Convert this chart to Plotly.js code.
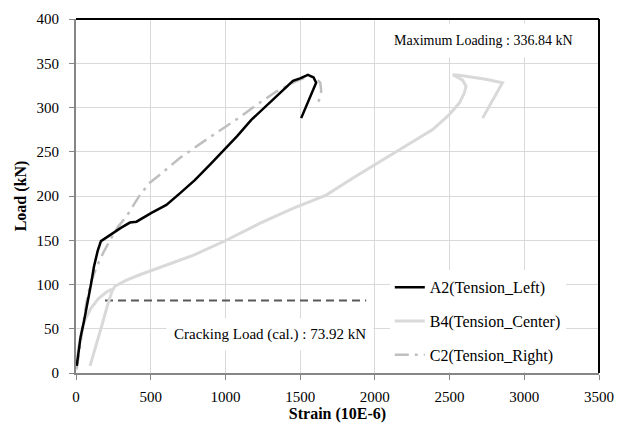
<!DOCTYPE html>
<html>
<head>
<meta charset="utf-8">
<script src="https://cdn.plot.ly/plotly-3.0.1.min.js"></script>
<style>html,body{margin:0;padding:0;background:#fff;}</style>
</head>
<body>
<div id="plotdiv"></div>
<script>
// A2 (Tension_Left)
var a2Strain = [5, 30, 55, 80, 100, 120, 145, 167, 227, 300, 361, 405, 505, 605, 695, 795, 900, 984, 1080, 1173, 1260, 1340, 1400, 1452, 1500, 1541, 1552, 1590, 1607, 1507];
var a2Load   = [8, 40, 60, 80, 100, 120, 138, 149, 156, 164, 170, 171, 181, 190, 203, 218, 236, 251, 268, 286, 300, 313, 322, 330, 333, 336, 337, 334, 328, 288];

// B4 (Tension_Center) - two branches separated by a gap
var b4Strain = [0, 15, 35, 60, 100, 150, 200, 240, null, 94, 130, 170, 210, 240, 260, 338, 427, 539, 672, 784, 1006, 1229, 1452, 1674, 1870, 2164, 2387, 2498, 2565, 2598, 2610, 2587, 2543, 2522, 2565, 2654, 2743, 2854, 2721];
var b4Load   = [3, 25, 45, 60, 73, 84, 91, 95, null, 8, 28, 52, 76, 92, 98, 105, 111, 118, 126, 133, 150, 169, 186, 201, 222, 252, 275, 292, 305, 316, 324, 331, 335, 337, 336.5, 334, 332, 328, 288];

// C2 (Tension_Right)
var c2Strain = [5, 25, 45, 70, 95, 120, 138, 180, 227, 280, 338, 427, 494, 561, 695, 840, 1029, 1095, 1200, 1340, 1452, 1520, 1563, 1600, 1635, 1641, 1630, 1608];
var c2Load   = [5, 30, 55, 80, 100, 113, 120, 135, 150, 165, 177, 201, 215, 224, 243, 260, 281, 289, 302, 318, 328, 333, 335, 334, 328, 318, 310, 300];

// Cracking load reference line
var crackStrain = [194, 1942];
var crackLoad = [82, 82];

var seriesNames = ['A2(Tension_Left)', 'B4(Tension_Center)', 'C2(Tension_Right)'];
var xTicks = [0, 500, 1000, 1500, 2000, 2500, 3000, 3500];
var yTicks = [0, 50, 100, 150, 200, 250, 300, 350, 400];
var maxText = 'Maximum Loading : 336.84 kN';
var crackText = 'Cracking Load (cal.) : 73.92 kN';

var traces = [
  {x: crackStrain, y: crackLoad, mode: 'lines', showlegend: false, hoverinfo: 'skip',
   line: {color: '#595959', width: 2, dash: '8px,5px'}},
  {x: b4Strain, y: b4Load, mode: 'lines', name: seriesNames[1], legendgroup: 'b', legendrank: 2,
   connectgaps: false, line: {color: '#d9d9d9', width: 3}},
  {x: c2Strain, y: c2Load, mode: 'lines', name: seriesNames[2], legendgroup: 'c', legendrank: 3,
   line: {color: '#bfbfbf', width: 2.5, dash: '14px,6px,3px,6px'}},
  {x: a2Strain, y: a2Load, mode: 'lines', name: seriesNames[0], legendgroup: 'a', legendrank: 1,
   line: {color: '#000000', width: 2.5}}
];

var layout = {
  width: 624, height: 435,
  margin: {l: 76, r: 25, t: 19, b: 62},
  paper_bgcolor: '#ffffff', plot_bgcolor: '#ffffff',
  font: {family: 'Liberation Serif', size: 15, color: '#000'},
  showlegend: true,
  legend: {
    x: 0.6, y: 0.29, xanchor: 'left', yanchor: 'top',
    bgcolor: '#ffffff', borderwidth: 0,
    font: {family: 'Liberation Serif', size: 16, color: '#000'},
    traceorder: 'grouped', tracegroupgap: 10
  },
  xaxis: {
    range: [0, 3500], tickvals: xTicks, ticktext: xTicks.map(String),
    showgrid: true, gridcolor: '#d9d9d9', gridwidth: 1,
    zeroline: false, showline: true, linecolor: '#868686', linewidth: 2,
    ticks: 'outside', ticklen: 5, tickcolor: '#868686', tickwidth: 1,
    ticklabelstandoff: 4,
    tickfont: {family: 'Liberation Serif', size: 15, color: '#000'},
    title: {text: '<b>Strain (10E-6)</b>', font: {family: 'Liberation Serif', size: 16, color: '#000'}, standoff: 4}
  },
  yaxis: {
    range: [0, 400], tickvals: yTicks, ticktext: yTicks.map(String),
    showgrid: true, gridcolor: '#d9d9d9', gridwidth: 1,
    zeroline: false, showline: true, linecolor: '#868686', linewidth: 2,
    ticks: 'outside', ticklen: 5, tickcolor: '#868686', tickwidth: 1,
    ticklabelstandoff: 7,
    tickfont: {family: 'Liberation Serif', size: 15, color: '#000'},
    title: {text: '<b>Load (kN)</b>', font: {family: 'Liberation Serif', size: 16, color: '#000'}, standoff: 6}
  },
  shapes: [
    {type: 'line', xref: 'paper', yref: 'paper', x0: 0, x1: 1, y0: 1, y1: 1, line: {color: '#000', width: 2}},
    {type: 'line', xref: 'paper', yref: 'paper', x0: 1, x1: 1, y0: 0, y1: 1, line: {color: '#000', width: 2}}
  ],
  annotations: [
    {xref: 'paper', yref: 'paper', x: 0.78, y: 0.94, xanchor: 'center', yanchor: 'middle',
     text: maxText, showarrow: false, bgcolor: '#ffffff', borderpad: 9,
     font: {family: 'Liberation Serif', size: 14, color: '#000'}},
    {xref: 'paper', yref: 'paper', x: 0.37, y: 0.108, xanchor: 'center', yanchor: 'middle',
     text: crackText, showarrow: false, bgcolor: '#ffffff', borderpad: 7,
     font: {family: 'Liberation Serif', size: 15, color: '#000'}}
  ]
};

Plotly.newPlot('plotdiv', traces, layout, {displayModeBar: false});
</script>
</body>
</html>
